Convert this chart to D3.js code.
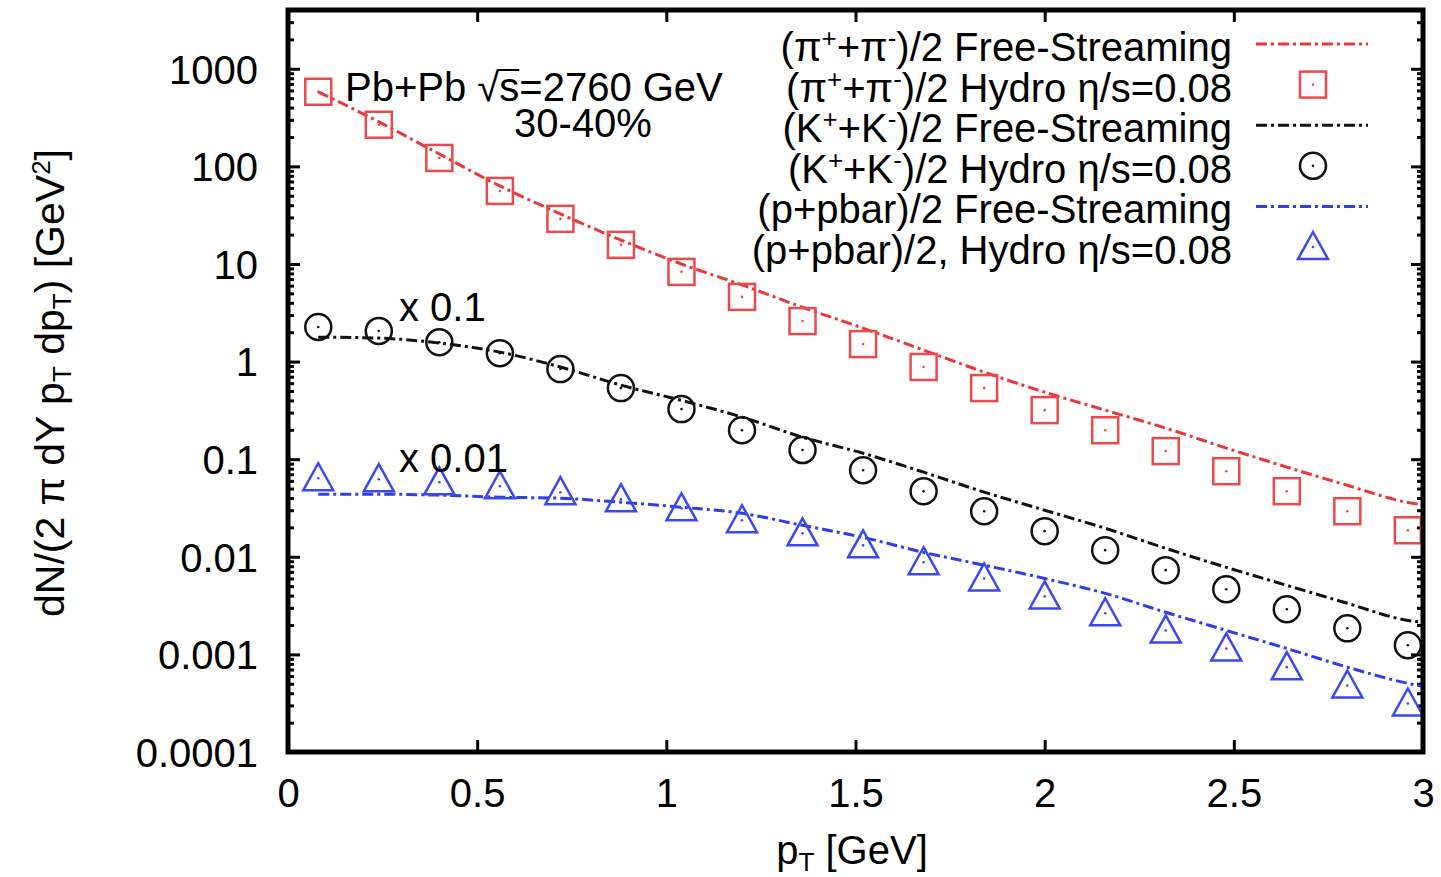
<!DOCTYPE html>
<html>
<head>
<meta charset="utf-8">
<script src="https://cdn.jsdelivr.net/npm/d3@7"></script>
<style>
  html, body { margin: 0; padding: 0; background: #fff; }
  svg { display: block; font-family: "Liberation Sans", Arial, Helvetica, sans-serif; }
</style>
</head>
<body>
<div id="chart"></div>
<script>
// transverse momentum grid of the hydro points (GeV)
const pT = [0.08, 0.24, 0.40, 0.56, 0.72, 0.88, 1.04, 1.20, 1.36, 1.52,
            1.68, 1.84, 2.00, 2.16, 2.32, 2.48, 2.64, 2.80, 2.96];
// grid of the free-streaming curves
const pTLine = [0.08, 0.24, 0.40, 0.56, 0.72, 0.88, 1.04, 1.20, 1.36, 1.52,
                1.68, 1.84, 2.00, 2.16, 2.32, 2.48, 2.64, 2.80, 2.96, 3.00];

const pionHydro = [581, 267, 122, 56, 29, 15.7, 8.3, 4.6, 2.6, 1.51,
                   0.88, 0.535, 0.318, 0.198, 0.121, 0.0753, 0.047, 0.0293, 0.0187];
const pionFS = [581, 286, 134, 63, 32.6, 17.6, 10, 6.1, 3.6, 2.2,
                1.31, 0.78, 0.486, 0.318, 0.208, 0.13, 0.083, 0.054, 0.036, 0.034];

const kaonHydro = [2.26, 2.06, 1.58, 1.22, 0.838, 0.535, 0.326, 0.198, 0.124, 0.077,
                   0.047, 0.0293, 0.0183, 0.0117, 0.0073, 0.00465, 0.0029, 0.00185, 0.00124];
const kaonFS = [1.78, 1.74, 1.55, 1.25, 0.88, 0.574, 0.40, 0.27, 0.168, 0.115,
                0.0736, 0.046, 0.030, 0.0196, 0.0122, 0.0078, 0.0051, 0.00334, 0.00223, 0.00213];

const protonHydro = [0.0638, 0.0624, 0.058, 0.0528, 0.0459, 0.0389, 0.0314, 0.0237, 0.0174, 0.0131,
                     0.0088, 0.0060, 0.00393, 0.00264, 0.00176, 0.00115, 0.00074, 0.00048, 0.000314];
const protonFS = [0.0438, 0.0438, 0.0428, 0.0408, 0.0398, 0.0362, 0.0322, 0.0279, 0.021, 0.0158,
                  0.0111, 0.0082, 0.0060, 0.00422, 0.0027, 0.00176, 0.00115, 0.00074, 0.000505, 0.00047];

const xTicks = [0, 0.5, 1, 1.5, 2, 2.5, 3];
const xTickLabels = ["0", "0.5", "1", "1.5", "2", "2.5", "3"];
const yTicks = [1e-4, 1e-3, 1e-2, 1e-1, 1, 10, 100, 1000];
const yTickLabels = ["0.0001", "0.001", "0.01", "0.1", "1", "10", "100", "1000"];

const RED = "#e8383a", BLACK = "#111", BLUE = "#2f3cf0";
const FONT = 40;

const width = 1441, height = 877;
const plot = { left: 288, right: 1423, top: 10, bottom: 752 };

const svg = d3.select("#chart").append("svg")
  .attr("width", width)
  .attr("height", height);

const x = d3.scaleLinear().domain([0, 3]).range([plot.left, plot.right]);
const y = d3.scaleLog().domain([1e-4, 4000]).range([plot.bottom, plot.top]);

svg.append("clipPath").attr("id", "clip")
  .append("rect")
  .attr("x", plot.left).attr("y", plot.top)
  .attr("width", plot.right - plot.left).attr("height", plot.bottom - plot.top);

// minor log ticks
const minorTicks = [];
for (let e = -4; e <= 3; e++) {
  for (let m = 2; m <= 9; m++) {
    const v = m * Math.pow(10, e);
    if (v < 4000) minorTicks.push(v);
  }
}

function styleAxis(g) {
  g.select(".domain").remove();
  g.selectAll(".tick line").attr("stroke", "#000").attr("stroke-width", 3);
  g.selectAll(".tick text")
    .attr("fill", "#000")
    .style("font-size", FONT + "px")
    .style("font-family", "'Liberation Sans', Arial, sans-serif");
}

svg.append("g")
  .attr("transform", `translate(${plot.left},0)`)
  .call(d3.axisLeft(y).tickValues(yTicks).tickSize(-12).tickPadding(30)
    .tickFormat((d, i) => yTickLabels[i]))
  .call(styleAxis)
  .selectAll(".tick text").attr("dy", "0.36em");

svg.append("g")
  .attr("transform", `translate(${plot.left},0)`)
  .call(d3.axisLeft(y).tickValues(minorTicks).tickSize(-6).tickFormat(""))
  .call(styleAxis);

svg.append("g")
  .attr("transform", `translate(${plot.right},0)`)
  .call(d3.axisRight(y).tickValues(yTicks).tickSize(-12).tickFormat(""))
  .call(styleAxis);

svg.append("g")
  .attr("transform", `translate(${plot.right},0)`)
  .call(d3.axisRight(y).tickValues(minorTicks).tickSize(-6).tickFormat(""))
  .call(styleAxis);

svg.append("g")
  .attr("transform", `translate(0,${plot.bottom})`)
  .call(d3.axisBottom(x).tickValues(xTicks).tickSize(-12).tickPadding(27)
    .tickFormat((d, i) => xTickLabels[i]))
  .call(styleAxis);

svg.append("g")
  .attr("transform", `translate(0,${plot.top})`)
  .call(d3.axisTop(x).tickValues(xTicks).tickSize(-12).tickFormat(""))
  .call(styleAxis);

// curves
const curves = [
  { values: pionFS, color: RED },
  { values: kaonFS, color: BLACK },
  { values: protonFS, color: BLUE }
];

const dash = "11,4,3,4";
const lineGen = d3.line()
  .x(d => x(d[0]))
  .y(d => y(d[1]))
  .curve(d3.curveMonotoneX);

const plotArea = svg.append("g").attr("clip-path", "url(#clip)");

curves.forEach(c => {
  plotArea.append("path")
    .datum(pTLine.map((p, i) => [p, c.values[i]]))
    .attr("d", lineGen)
    .attr("fill", "none")
    .attr("stroke", c.color)
    .attr("stroke-width", 3)
    .attr("stroke-dasharray", dash);
});

// marker shapes
function drawMarker(g, shape, cx, cy, color) {
  const s = 13;
  if (shape === "square") {
    g.append("rect")
      .attr("x", cx - s).attr("y", cy - s)
      .attr("width", 2 * s).attr("height", 2 * s)
      .attr("fill", "none").attr("stroke", color).attr("stroke-width", 2.5);
  } else if (shape === "circle") {
    g.append("circle")
      .attr("cx", cx).attr("cy", cy).attr("r", s)
      .attr("fill", "none").attr("stroke", color).attr("stroke-width", 2.5);
  } else {
    const h = 12;
    g.append("path")
      .attr("d", `M${cx},${cy - h - 3} L${cx + s + 2},${cy + h} L${cx - s - 2},${cy + h} Z`)
      .attr("fill", "none").attr("stroke", color).attr("stroke-width", 2.5)
      .attr("stroke-linejoin", "miter");
  }
  g.append("circle")
    .attr("cx", cx).attr("cy", cy).attr("r", 1.3)
    .attr("fill", color);
}

const pointSets = [
  { values: pionHydro, color: "#ea4a4c", shape: "square" },
  { values: kaonHydro, color: BLACK, shape: "circle" },
  { values: protonHydro, color: "#3a48f2", shape: "triangle" }
];

const markers = plotArea.append("g");
pointSets.forEach(set => {
  set.values.forEach((v, i) => {
    drawMarker(markers, set.shape, x(pT[i]), y(v), set.color);
  });
});

// frame
svg.append("rect")
  .attr("x", plot.left).attr("y", plot.top)
  .attr("width", plot.right - plot.left).attr("height", plot.bottom - plot.top)
  .attr("fill", "none").attr("stroke", "#000").attr("stroke-width", 5);

// legend
const legendX = 1232;
const legendRows = [
  { parts: [["(π", 0], ["+", 1], ["+π", 0], ["-", 1], [")/2 Free-Streaming", 0]], type: "line", color: RED },
  { parts: [["(π", 0], ["+", 1], ["+π", 0], ["-", 1], [")/2 Hydro η/s=0.08", 0]], type: "square", color: "#ea4a4c" },
  { parts: [["(K", 0], ["+", 1], ["+K", 0], ["-", 1], [")/2 Free-Streaming", 0]], type: "line", color: BLACK },
  { parts: [["(K", 0], ["+", 1], ["+K", 0], ["-", 1], [")/2 Hydro η/s=0.08", 0]], type: "circle", color: BLACK },
  { parts: [["(p+pbar)/2 Free-Streaming", 0]], type: "line", color: BLUE },
  { parts: [["(p+pbar)/2, Hydro η/s=0.08", 0]], type: "triangle", color: "#3a48f2" }
];

const legend = svg.append("g");
legendRows.forEach((row, i) => {
  const cy = 47 + i * 40.6;
  const t = legend.append("text")
    .attr("x", legendX)
    .attr("y", cy + 14)
    .attr("text-anchor", "end")
    .style("font-size", FONT + "px")
    .attr("fill", "#000");
  row.parts.forEach(([txt, sup]) => {
    const ts = t.append("tspan").text(txt);
    if (sup) ts.attr("baseline-shift", "55%").style("font-size", "26px");
  });
  if (row.type === "line") {
    legend.append("line")
      .attr("x1", 1256).attr("x2", 1368)
      .attr("y1", cy - 3).attr("y2", cy - 3)
      .attr("stroke", row.color).attr("stroke-width", 3)
      .attr("stroke-dasharray", dash);
  } else {
    drawMarker(legend, row.type, 1313, cy - 3, row.color);
  }
});

// annotations
const annY = 101;
const ann = svg.append("text")
  .attr("x", 345).attr("y", annY)
  .style("font-size", FONT + "px").attr("fill", "#000")
  .text("Pb+Pb √s=2760 GeV");
// vinculum of the square root over "s"
const rootIdx = "Pb+Pb √".length - 1;
const annNode = ann.node();
const barX1 = annNode.getEndPositionOfChar(rootIdx).x - 2;
const barX2 = annNode.getEndPositionOfChar(rootIdx + 1).x;
svg.append("line")
  .attr("x1", barX1).attr("x2", barX2)
  .attr("y1", annY - 31).attr("y2", annY - 31)
  .attr("stroke", "#000").attr("stroke-width", 2);

svg.append("text")
  .attr("x", 583).attr("y", 137)
  .attr("text-anchor", "middle")
  .style("font-size", FONT + "px").attr("fill", "#000")
  .text("30-40%");

svg.append("text")
  .attr("x", 399).attr("y", 321)
  .style("font-size", FONT + "px").attr("fill", "#000")
  .text("x 0.1");

svg.append("text")
  .attr("x", 399).attr("y", 472)
  .style("font-size", FONT + "px").attr("fill", "#000")
  .text("x 0.01");

// axis labels
const xl = svg.append("text")
  .attr("x", 852).attr("y", 864)
  .attr("text-anchor", "middle")
  .style("font-size", FONT + "px").attr("fill", "#000");
xl.append("tspan").text("p");
xl.append("tspan").text("T").attr("baseline-shift", "-25%").style("font-size", "26px");
xl.append("tspan").text(" [GeV]");

const yl = svg.append("text")
  .attr("transform", "translate(64,383) rotate(-90)")
  .attr("text-anchor", "middle")
  .style("font-size", "41px").attr("fill", "#000");
yl.append("tspan").text("dN/(2 π dY p");
yl.append("tspan").text("T").attr("baseline-shift", "-25%").style("font-size", "26px");
yl.append("tspan").text(" dp");
yl.append("tspan").text("T").attr("baseline-shift", "-25%").style("font-size", "26px");
yl.append("tspan").text(") [GeV");
yl.append("tspan").text("2").attr("baseline-shift", "55%").style("font-size", "26px");
yl.append("tspan").text("]");
</script>
</body>
</html>
